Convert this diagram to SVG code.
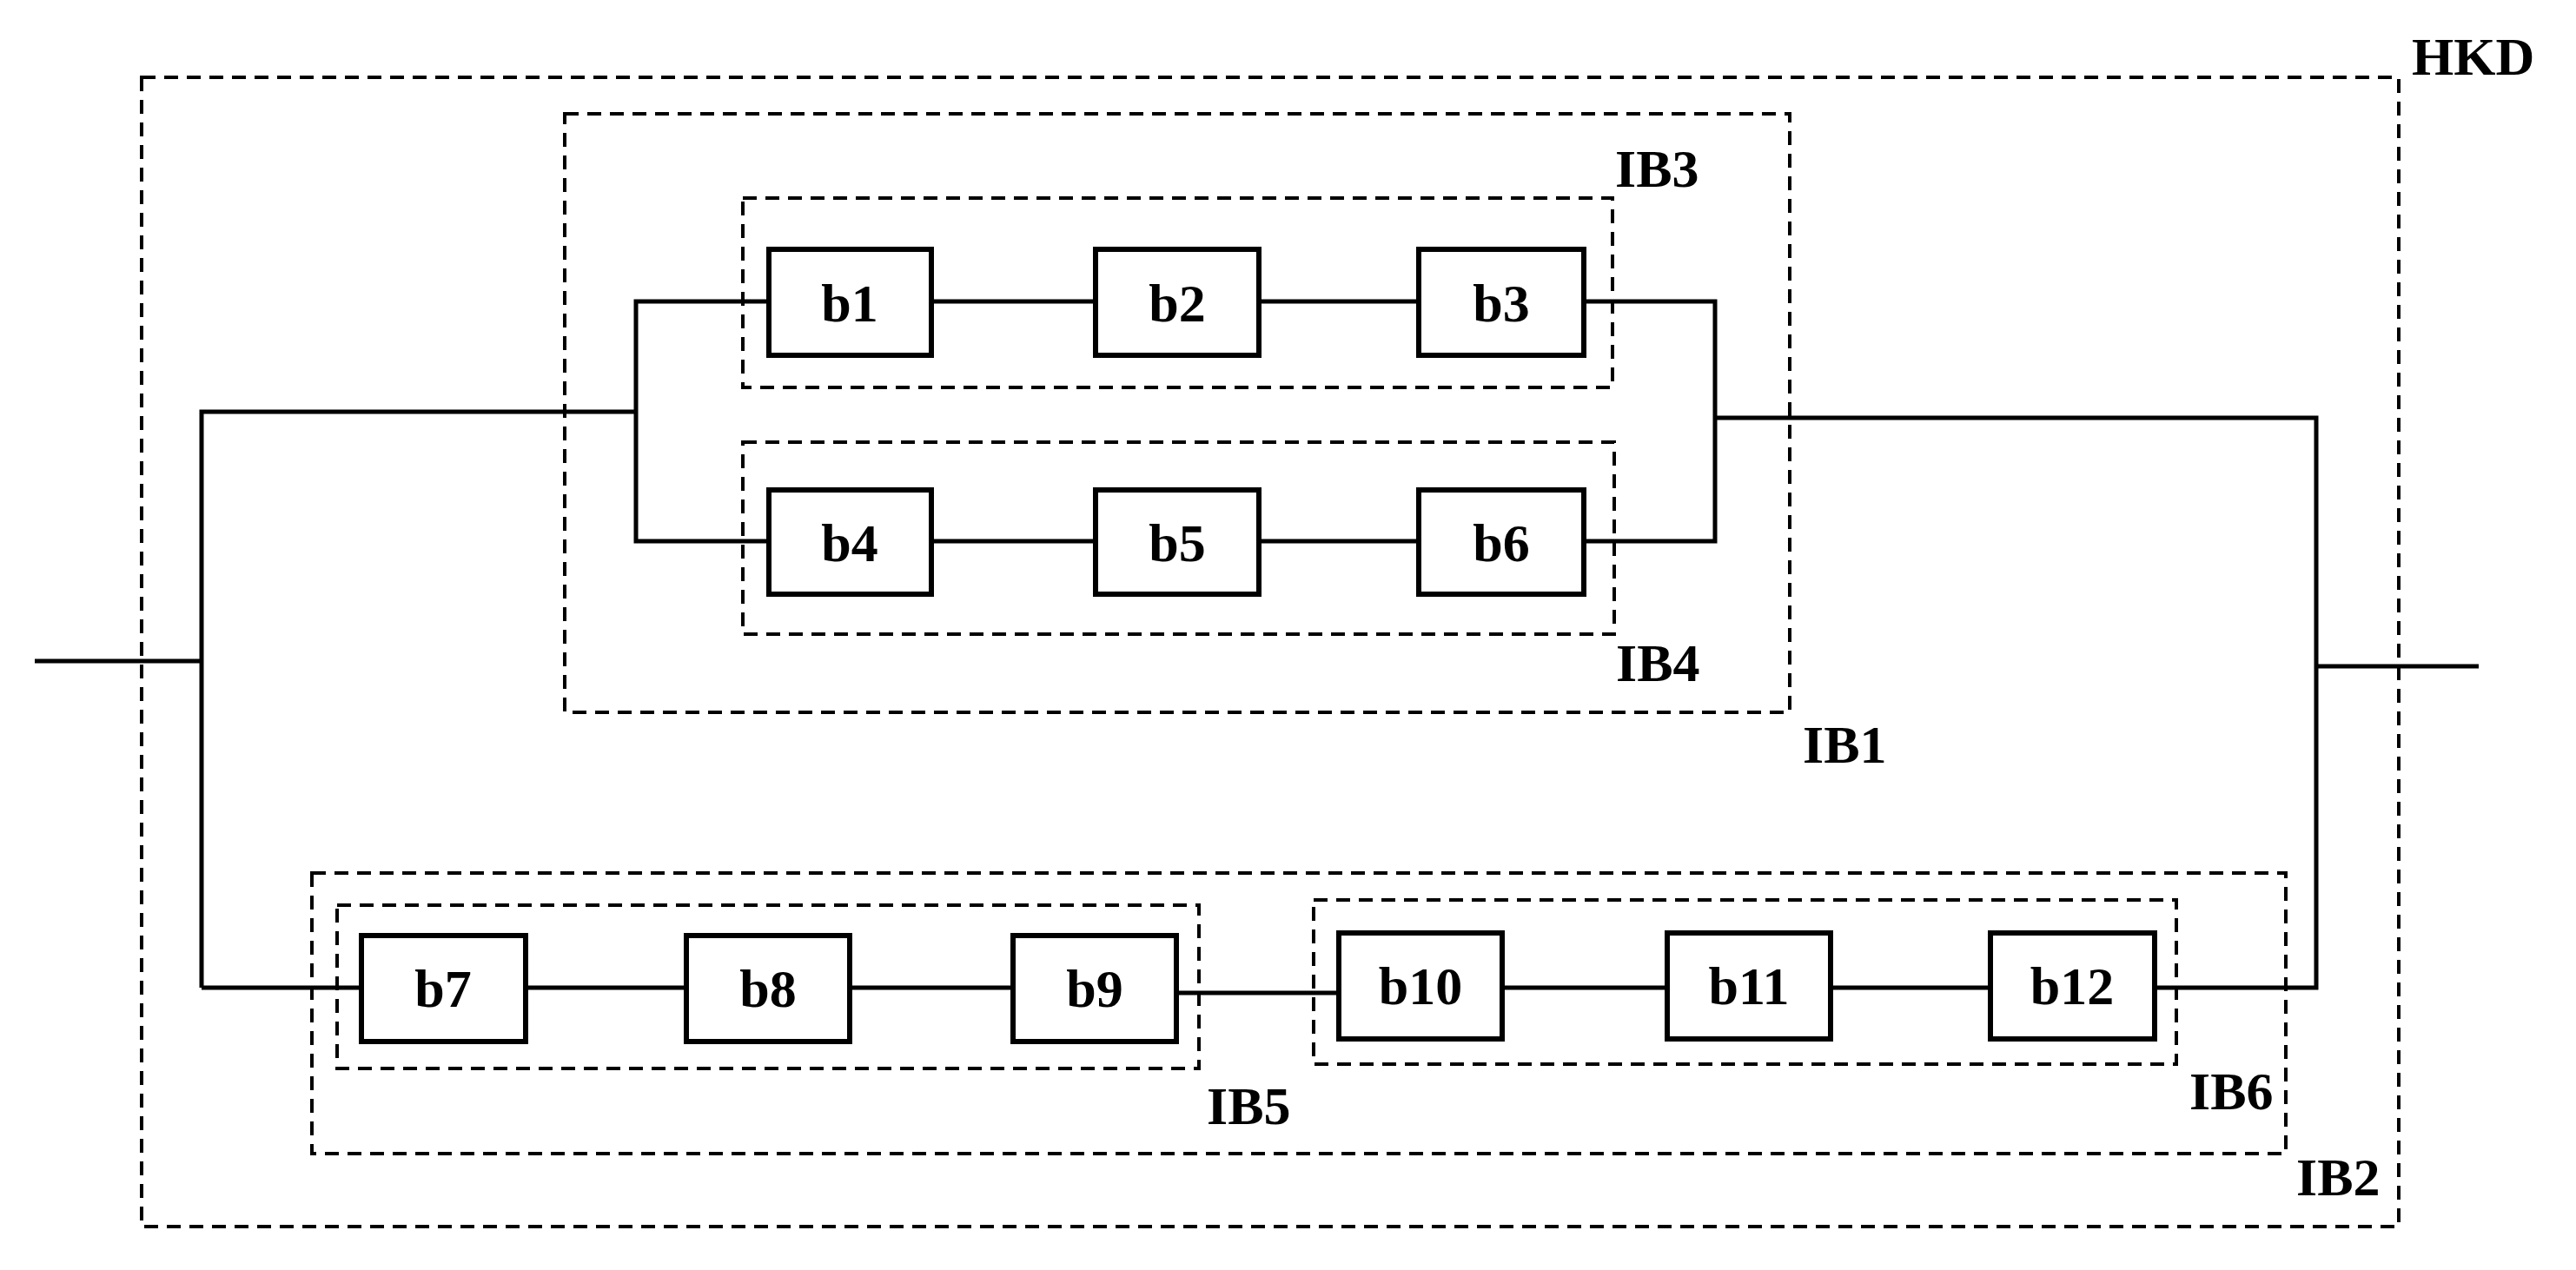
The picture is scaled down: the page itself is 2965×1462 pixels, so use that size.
<svg xmlns="http://www.w3.org/2000/svg" width="2965" height="1462" viewBox="0 0 2965 1462">
<style>
.d{fill:none;stroke:#000;stroke-width:4;stroke-dasharray:16 10}
.b rect{fill:#fff;stroke:#000;stroke-width:6}
.b text,.l{font-family:"Liberation Serif",serif;font-weight:bold;font-size:62px;fill:#000}
.b text{text-anchor:middle}
.c{fill:none;stroke:#000;stroke-width:5}
</style>
<rect width="2965" height="1462" fill="#fff"/>
<g id="groups">
<rect class="d" x="163" y="89" width="2598" height="1323"/>
<rect class="d" x="650" y="131" width="1410" height="689"/>
<rect class="d" x="855" y="228" width="1001" height="218"/>
<rect class="d" x="855" y="509" width="1003" height="221"/>
<rect class="d" x="359" y="1005" width="2272" height="323"/>
<rect class="d" x="388" y="1042" width="992" height="188"/>
<rect class="d" x="1512" y="1036" width="993" height="189"/>
<text class="l" x="2776" y="86">HKD</text>
<text class="l" x="2075" y="878">IB1</text>
<text class="l" x="1859" y="215">IB3</text>
<text class="l" x="1860" y="784">IB4</text>
<text class="l" x="2643" y="1376">IB2</text>
<text class="l" x="1389" y="1294">IB5</text>
<text class="l" x="2520" y="1277">IB6</text>
</g>
<g id="connectors">
<polyline class="c" points="40,761 232,761"/>
<polyline class="c" points="232,1137 232,474 732,474"/>
<polyline class="c" points="885,347 732,347 732,623 885,623"/>
<line class="c" x1="1072" y1="347" x2="1261" y2="347"/>
<line class="c" x1="1449" y1="347" x2="1633" y2="347"/>
<line class="c" x1="1072" y1="623" x2="1261" y2="623"/>
<line class="c" x1="1449" y1="623" x2="1633" y2="623"/>
<polyline class="c" points="1823,347 1974,347 1974,623 1823,623"/>
<polyline class="c" points="1974,481 2666,481 2666,1137 2480,1137"/>
<polyline class="c" points="2666,767 2853,767"/>
<line class="c" x1="232" y1="1137" x2="416" y2="1137"/>
<line class="c" x1="605" y1="1137" x2="790" y2="1137"/>
<line class="c" x1="978" y1="1137" x2="1166" y2="1137"/>
<line class="c" x1="1354" y1="1143" x2="1541" y2="1143"/>
<line class="c" x1="1729" y1="1137" x2="1919" y2="1137"/>
<line class="c" x1="2107" y1="1137" x2="2291" y2="1137"/>
</g>
<g id="b1" class="b"><rect x="885" y="287" width="187" height="122"/><text x="978" y="370">b1</text></g>
<g id="b2" class="b"><rect x="1261" y="287" width="188" height="122"/><text x="1355" y="370">b2</text></g>
<g id="b3" class="b"><rect x="1633" y="287" width="190" height="122"/><text x="1728" y="370">b3</text></g>
<g id="b4" class="b"><rect x="885" y="564" width="187" height="120"/><text x="978" y="646">b4</text></g>
<g id="b5" class="b"><rect x="1261" y="564" width="188" height="120"/><text x="1355" y="646">b5</text></g>
<g id="b6" class="b"><rect x="1633" y="564" width="190" height="120"/><text x="1728" y="646">b6</text></g>
<g id="b7" class="b"><rect x="416" y="1077" width="189" height="122"/><text x="510" y="1159">b7</text></g>
<g id="b8" class="b"><rect x="790" y="1077" width="188" height="122"/><text x="884" y="1159">b8</text></g>
<g id="b9" class="b"><rect x="1166" y="1077" width="188" height="122"/><text x="1260" y="1159">b9</text></g>
<g id="b10" class="b"><rect x="1541" y="1074" width="188" height="122"/><text x="1635" y="1156">b10</text></g>
<g id="b11" class="b"><rect x="1919" y="1074" width="188" height="122"/><text x="2013" y="1156">b11</text></g>
<g id="b12" class="b"><rect x="2291" y="1074" width="189" height="122"/><text x="2385" y="1156">b12</text></g>
</svg>
